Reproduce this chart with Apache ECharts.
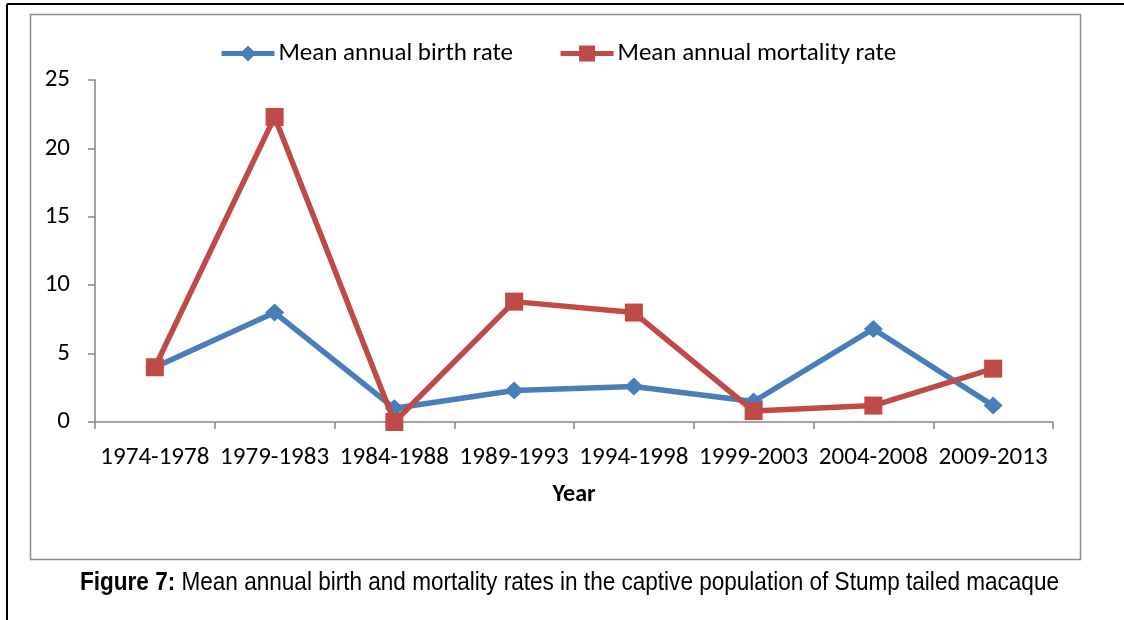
<!DOCTYPE html>
<html>
<head>
<meta charset="utf-8">
<script src="https://cdn.jsdelivr.net/npm/echarts@6/dist/echarts.min.js"></script>
<style>
html,body{margin:0;padding:0;background:#fff;}
#c{width:1124px;height:620px;}
</style>
</head>
<body>
<div id="c"></div>
<script>
const categories = ['1974-1978','1979-1983','1984-1988','1989-1993','1994-1998','1999-2003','2004-2008','2009-2013'];
const birthRate = [4.0, 8.0, 1.0, 2.3, 2.6, 1.5, 6.8, 1.2];
const mortalityRate = [4.0, 22.3, 0.0, 8.8, 8.0, 0.8, 1.2, 3.9];
const yTicks = [0, 5, 10, 15, 20, 25];
const seriesNames = ['Mean annual birth rate', 'Mean annual mortality rate'];
const xAxisTitle = 'Year';
const captionBold = 'Figure 7:';
const captionText = ' Mean annual birth and mortality rates in the captive population of Stump tailed macaque';

const font = 'Carlito, Lato, "Open Sans", sans-serif';
const capFont = '"Liberation Sans", Arial, sans-serif';
const capSize = 25;

// measure caption width to compress it horizontally like the condensed original
const cv = document.createElement('canvas').getContext('2d');
cv.font = 'bold ' + capSize + 'px ' + capFont;
let capW = cv.measureText(captionBold).width;
cv.font = capSize + 'px ' + capFont;
capW += cv.measureText(captionText).width;
const capTarget = 979;
const capScale = capTarget / capW;

const chart = echarts.init(document.getElementById('c'));
chart.setOption({
  animation: false,
  backgroundColor: '#fff',
  grid: {left: 95, right: 71, top: 80, bottom: 198, containLabel: false},
  legend: {
    left: 219, top: 41, padding: 0,
    itemWidth: 53, itemHeight: 20, itemGap: 45,
    lineStyle: {width: 5},
    textStyle: {fontFamily: font, fontSize: 25, color: '#000', padding: [0, 0, 0, -1]},
    data: seriesNames
  },
  xAxis: {
    type: 'category', data: categories, boundaryGap: true,
    name: xAxisTitle, nameLocation: 'middle', nameGap: 61,
    nameTextStyle: {fontFamily: font, fontSize: 24, fontWeight: 'bold', color: '#000'},
    axisLine: {lineStyle: {color: '#868686', width: 1.5}},
    axisTick: {show: true, alignWithLabel: false, length: 7, lineStyle: {color: '#868686', width: 1.5}},
    axisLabel: {fontFamily: font, fontSize: 25, color: '#000', margin: 23, interval: 0}
  },
  yAxis: {
    type: 'value', min: yTicks[0], max: yTicks[yTicks.length-1], interval: 5,
    axisLine: {show: true, lineStyle: {color: '#868686', width: 1.5}},
    axisTick: {show: true, length: 7, lineStyle: {color: '#868686', width: 1.5}},
    splitLine: {show: false},
    axisLabel: {fontFamily: font, fontSize: 25, color: '#000', margin: 25}
  },
  series: [
    {
      name: seriesNames[0], type: 'line', data: birthRate,
      symbol: 'diamond', symbolSize: [19, 18],
      lineStyle: {color: '#4A7EBB', width: 5.5},
      itemStyle: {color: '#4A7EBB'}, z: 2
    },
    {
      name: seriesNames[1], type: 'line', data: mortalityRate,
      symbol: 'rect', symbolSize: 18,
      lineStyle: {color: '#BE4B48', width: 5.5},
      itemStyle: {color: '#BE4B48'}, z: 3
    }
  ],
  graphic: [
    {type: 'rect', silent: true, shape: {x: 30.5, y: 14.5, width: 1050, height: 545}, style: {fill: null, stroke: '#8c8c8c', lineWidth: 1.5}, z: -1},
    {type: 'line', silent: true, shape: {x1: 7, y1: 4, x2: 1124, y2: 4}, style: {stroke: '#000', lineWidth: 2}},
    {type: 'line', silent: true, shape: {x1: 7, y1: 4, x2: 7, y2: 620}, style: {stroke: '#000', lineWidth: 2}},
    {
      type: 'text', silent: true, x: 80, y: 583, scaleX: capScale, originX: 0,
      style: {
        text: '{b|' + captionBold + '}{n|' + captionText + '}',
        verticalAlign: 'middle', align: 'left',
        rich: {
          b: {fontFamily: capFont, fontSize: capSize, fontWeight: 'bold', fill: '#000'},
          n: {fontFamily: capFont, fontSize: capSize, fontWeight: 'normal', fill: '#000'}
        }
      }
    }
  ]
});
</script>
</body>
</html>
